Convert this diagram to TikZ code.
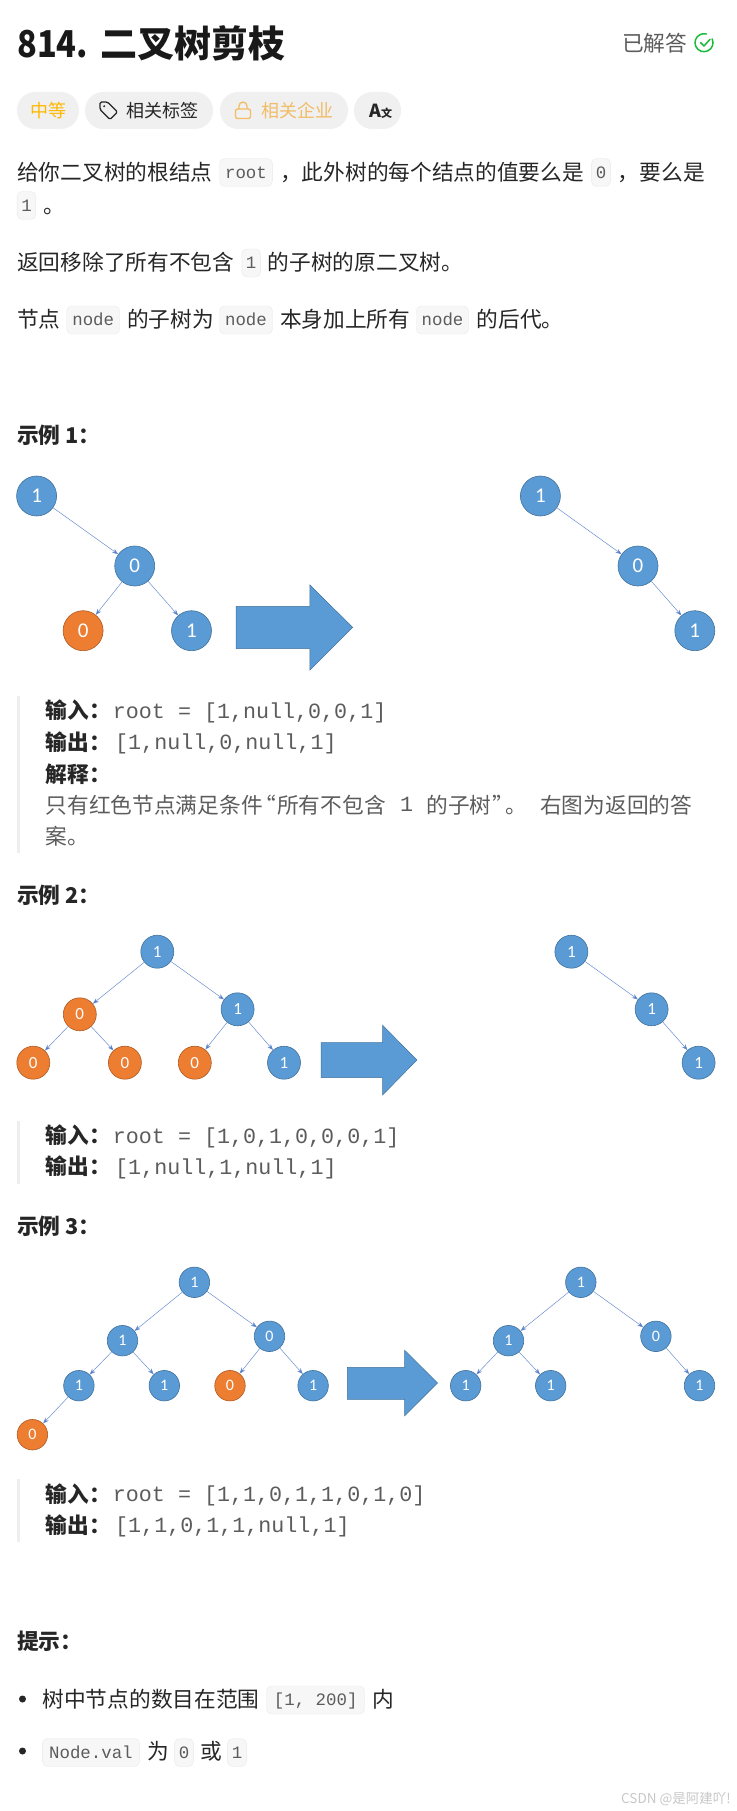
\documentclass[tikz,border=0pt]{standalone}
\usepackage{fontspec}
\setmainfont{Noto Sans CJK SC}
\setmonofont{Liberation Mono}
\newfontfamily\nodefont{Carlito}
\newfontfamily\titlefont[FakeStretch=0.88]{Noto Sans CJK SC}
\usetikzlibrary{arrows.meta}
\definecolor{nodeblue}{HTML}{5B9BD5}
\definecolor{nodeline}{HTML}{41719C}
\definecolor{nodeorange}{HTML}{ED7D31}
\definecolor{orangeline}{HTML}{AE5A21}
\definecolor{edgeblue}{HTML}{4472C4}
\definecolor{inktext}{HTML}{262626}
\definecolor{graytext}{HTML}{5C5C5C}
\definecolor{pillgray}{HTML}{F0F0F0}
\definecolor{chipfill}{HTML}{F7F7F7}
\definecolor{chipline}{HTML}{E8E8E8}
\definecolor{barcolor}{HTML}{EEEEEE}
\definecolor{levelorange}{HTML}{FFB800}
\definecolor{lockorange}{HTML}{F2BC66}
\definecolor{donegreen}{HTML}{1CBA3A}
\tikzset{
	plain/.style={anchor=west,inner sep=0pt,text height=19.1pt,text depth=2.6pt,text=inktext,font=\fontsize{21.7}{26}\selectfont},
	strong/.style={plain,font=\bfseries\fontsize{21.7}{26}\selectfont},
	faint/.style={plain,text=graytext},
	code/.style={plain,text height=16.1pt,text=graytext,font=\ttfamily\fontsize{21.7}{26}\selectfont},
	chip/.style={rectangle,rounded corners=5pt,draw=chipline,fill=chipfill,inner sep=0pt,minimum width=#1,minimum height=28pt,text=graytext,text height=13pt,text depth=1.4pt,font=\ttfamily\fontsize{17.4}{20}\selectfont},
	pill/.style={fill=pillgray,rounded corners=18pt},
	pilltext/.style={plain,text height=15.8pt,text depth=2.2pt,font=\fontsize{18}{22}\selectfont},
	keepnode/.style={circle,fill=nodeblue,draw=nodeline,line width=.6pt,inner sep=0pt,text=white},
	cutnode/.style={keepnode,fill=nodeorange,draw=orangeline},
	sizeone/.style={minimum size=40pt,font=\nodefont\fontsize{21}{24}\selectfont},
	sizetwo/.style={minimum size=33pt,font=\nodefont\fontsize{17}{20}\selectfont},
	sizethree/.style={minimum size=30.5pt,font=\nodefont\fontsize{16}{18}\selectfont},
	edge/.style={edgeblue!80,line width=.5pt,-{Stealth[length=6pt,width=4.5pt,fill=edgeblue]}},
	bigarrow/.style={fill=nodeblue,draw=nodeline,line width=.5pt}
}
\begin{document}
\begin{tikzpicture}[x=1pt,y=-1pt]
	\useasboundingbox (0,0) rectangle (736,1811);

	% Title
	\node[plain,text height=32.6pt,text depth=4.4pt,font=\titlefont\bfseries\fontsize{37}{44}\selectfont,text=black!90] (titlenum) at (17,43) {814.};
	\node[plain,text height=32.6pt,text depth=4.4pt,font=\bfseries\fontsize{37}{44}\selectfont,text=black!90] (title) at (100,43) {二叉树剪枝};
	\node[plain,text=graytext] (done) at (622,43) {已解答};
	\draw[donegreen,line width=1.5pt,line cap=round] (704,42.7) ++(335:9) arc (335:645:9);
	\draw[donegreen,line width=1.5pt,line cap=round,line join=round] (700.7,42.7) -- (704,46) -- (710,39.3);

	% Pills
	\fill[pill] (17,92) rectangle (79,129);
	\fill[pill] (85,92) rectangle (213,129);
	\fill[pill] (220,92) rectangle (348,129);
	\fill[pill] (354,92) rectangle (401,129);
	\node[pilltext,text=levelorange] (level) at (30.5,110.5) {中等};
	\draw[inktext,line width=1.3pt,line join=round,rounded corners=1.5pt] (100,102) -- (107.5,102) -- (117.5,112) -- (110,119.5) -- (100,109.5) -- cycle;
	\fill[inktext] (104.2,106.2) circle (1.1pt);
	\node[pilltext] (tags) at (126,110.5) {相关标签};
	\draw[lockorange,line width=1.3pt,rounded corners=2pt] (235.5,109) rectangle (250.5,118.5);
	\draw[lockorange,line width=1.3pt] (239,109) -- (239,106) arc (180:360:4) -- (247,109);
	\node[pilltext,text=lockorange] (firms) at (261,110.5) {相关企业};
	\node[pilltext,font=\bfseries\fontsize{18}{22}\selectfont] (lang) at (369,110.5) {A\fontsize{11}{13}\selectfont 文};

	% Statement
	\node[plain] (ln1a) at (17,172) {给你二叉树的根结点};
	\node[chip=52.6pt] (rootchip) at (246,172.5) {root};
	\node[plain] (ln1b) at (280,172) {，此外树的每个结点的值要么是};
	\node[chip=18.8pt] (zerochip) at (601,172.5) {0};
	\node[plain] (ln1c) at (617.7,172) {，要么是};
	\node[chip=18.8pt] (onechip) at (26.5,205.5) {1};
	\node[plain] (ln2) at (43,205) {。};
	\node[plain] (ln3a) at (17,262) {返回移除了所有不包含};
	\node[chip=18.8pt] (onechipb) at (251.2,263) {1};
	\node[plain] (ln3b) at (267.6,262) {的子树的原二叉树。};
	\node[plain] (ln4a) at (17,319) {节点};
	\node[chip=53pt] (nodechipa) at (93.2,320) {node};
	\node[plain] (ln4b) at (126.8,319) {的子树为};
	\node[chip=53pt] (nodechipb) at (246,320) {node};
	\node[plain] (ln4c) at (279.8,319) {本身加上所有};
	\node[chip=52pt] (nodechipc) at (442.5,320) {node};
	\node[plain] (ln4d) at (476.5,319) {的后代。};

	% Example 1
	\node[strong] (exone) at (17,435) {示例 1：};
	\node[keepnode,sizeone] (a1) at (36.6,496) {1};
	\node[keepnode,sizeone] (a2) at (134.7,566) {0};
	\node[cutnode,sizeone] (a3) at (83.1,630.7) {0};
	\node[keepnode,sizeone] (a4) at (191.5,630.7) {1};
	\draw[edge] (a1) -- (a2);
	\draw[edge] (a2) -- (a3);
	\draw[edge] (a2) -- (a4);
	\draw[bigarrow] (236.2,606.3) -- (309.9,606.3) -- (309.9,585) -- (352.6,627.3) -- (309.9,670) -- (309.9,648.7) -- (236.2,648.7) -- cycle;
	\node[keepnode,sizeone] (b1) at (540.4,496) {1};
	\node[keepnode,sizeone] (b2) at (638,566) {0};
	\node[keepnode,sizeone] (b3) at (694.8,630.7) {1};
	\draw[edge] (b1) -- (b2);
	\draw[edge] (b2) -- (b3);

	\fill[barcolor] (17,696) rectangle (20.3,852.7);
	\node[strong] (inone) at (45.5,710.2) {输入：};
	\node[code] (inoneval) at (112.7,711.7) {root = [1,null,0,0,1]};
	\node[strong] (outone) at (45.5,742) {输出：};
	\node[code] (outoneval) at (115,743) {[1,null,0,null,1]};
	\node[strong] (whyone) at (45.5,774) {解释：};
	\node[faint] (noa) at (45.5,805) {只有红色节点满足条件};
	\node[faint] (nob) at (254,805) {“};
	\node[faint] (noc) at (277,805) {所有不包含};
	\node[code] (nod) at (400,805) {1};
	\node[faint] (noe) at (426.3,805) {的子树};
	\node[faint] (nof) at (492,805) {”};
	\node[faint] (nog) at (505,805) {。};
	\node[faint] (noh) at (540,805) {右图为返回的答};
	\node[faint] (noi) at (45.5,836.7) {案。};

	% Example 2
	\node[strong] (extwo) at (17,895) {示例 2：};
	\node[keepnode,sizetwo] (c1) at (157.3,951.7) {1};
	\node[cutnode,sizetwo] (c2) at (79.8,1014.3) {0};
	\node[keepnode,sizetwo] (c3) at (237.6,1009.3) {1};
	\node[cutnode,sizetwo] (c4) at (33.3,1062.7) {0};
	\node[cutnode,sizetwo] (c5) at (124.9,1062.7) {0};
	\node[cutnode,sizetwo] (c6) at (194.8,1062.7) {0};
	\node[keepnode,sizetwo] (c7) at (284,1062.7) {1};
	\draw[edge] (c1) -- (c2);
	\draw[edge] (c1) -- (c3);
	\draw[edge] (c2) -- (c4);
	\draw[edge] (c2) -- (c5);
	\draw[edge] (c3) -- (c6);
	\draw[edge] (c3) -- (c7);
	\draw[bigarrow] (321.1,1042.7) -- (382.6,1042.7) -- (382.6,1025.3) -- (416.9,1060) -- (382.6,1095) -- (382.6,1077.7) -- (321.1,1077.7) -- cycle;
	\node[keepnode,sizetwo] (d1) at (571.4,951.7) {1};
	\node[keepnode,sizetwo] (d2) at (651.6,1009.3) {1};
	\node[keepnode,sizetwo] (d3) at (698.6,1062.7) {1};
	\draw[edge] (d1) -- (d2);
	\draw[edge] (d2) -- (d3);

	\fill[barcolor] (17,1121) rectangle (20.3,1184);
	\node[strong] (intwo) at (45.5,1135.7) {输入：};
	\node[code] (intwoval) at (112.7,1136.7) {root = [1,0,1,0,0,0,1]};
	\node[strong] (outtwo) at (45.5,1166.3) {输出：};
	\node[code] (outtwoval) at (115,1167.3) {[1,null,1,null,1]};

	% Example 3
	\node[strong] (exthree) at (17,1226) {示例 3：};
	\node[keepnode,sizethree] (e1) at (194.4,1282.3) {1};
	\node[keepnode,sizethree] (e2) at (122.5,1340.7) {1};
	\node[keepnode,sizethree] (e3) at (269.5,1336.3) {0};
	\node[keepnode,sizethree] (e4) at (78.9,1385.7) {1};
	\node[keepnode,sizethree] (e5) at (164.3,1385.7) {1};
	\node[cutnode,sizethree] (e6) at (230,1385.7) {0};
	\node[keepnode,sizethree] (e7) at (313.1,1385.7) {1};
	\node[cutnode,sizethree] (e8) at (32.4,1434.7) {0};
	\draw[edge] (e1) -- (e2);
	\draw[edge] (e1) -- (e3);
	\draw[edge] (e2) -- (e4);
	\draw[edge] (e2) -- (e5);
	\draw[edge] (e3) -- (e6);
	\draw[edge] (e3) -- (e7);
	\draw[edge] (e4) -- (e8);
	\draw[bigarrow] (347.4,1367.3) -- (404.7,1367.3) -- (404.7,1350.3) -- (437.6,1383) -- (404.7,1415.7) -- (404.7,1399.3) -- (347.4,1399.3) -- cycle;
	\node[keepnode,sizethree] (f1) at (580.8,1282.3) {1};
	\node[keepnode,sizethree] (f2) at (508.5,1340.7) {1};
	\node[keepnode,sizethree] (f3) at (655.9,1336.3) {0};
	\node[keepnode,sizethree] (f4) at (465.7,1385.7) {1};
	\node[keepnode,sizethree] (f5) at (550.7,1385.7) {1};
	\node[keepnode,sizethree] (f6) at (699.5,1385.7) {1};
	\draw[edge] (f1) -- (f2);
	\draw[edge] (f1) -- (f3);
	\draw[edge] (f2) -- (f4);
	\draw[edge] (f2) -- (f5);
	\draw[edge] (f3) -- (f6);

	\fill[barcolor] (17,1479) rectangle (20.3,1542);
	\node[strong] (inthree) at (45.5,1494) {输入：};
	\node[code] (inthreeval) at (112.7,1495) {root = [1,1,0,1,1,0,1,0]};
	\node[strong] (outthree) at (45.5,1525) {输出：};
	\node[code] (outthreeval) at (115,1526) {[1,1,0,1,1,null,1]};

	% Hints
	\node[strong] (hints) at (17,1641.7) {提示：};
	\fill[inktext] (22.5,1699) circle (3.5pt);
	\node[plain] (hinta) at (42.3,1699) {树中节点的数目在范围};
	\node[chip=98pt] (rangechip) at (315.7,1700) {[1, 200]};
	\node[plain] (hintb) at (372.3,1699) {内};
	\fill[inktext] (22.5,1751) circle (3.5pt);
	\node[chip=97pt] (valchip) at (90.9,1752.5) {Node.val};
	\node[plain] (hintc) at (147,1751) {为};
	\node[chip=18.8pt] (zerochipb) at (184,1752.5) {0};
	\node[plain] (hintd) at (200.5,1751) {或};
	\node[chip=18.8pt] (onechipc) at (237,1752.5) {1};

	% Watermark
	\node[plain,text height=11.9pt,text depth=1.6pt,text=black!22,font=\fontsize{13.5}{16}\selectfont] (mark) at (621,1798) {CSDN @是阿建吖!};
\end{tikzpicture}
\end{document}
